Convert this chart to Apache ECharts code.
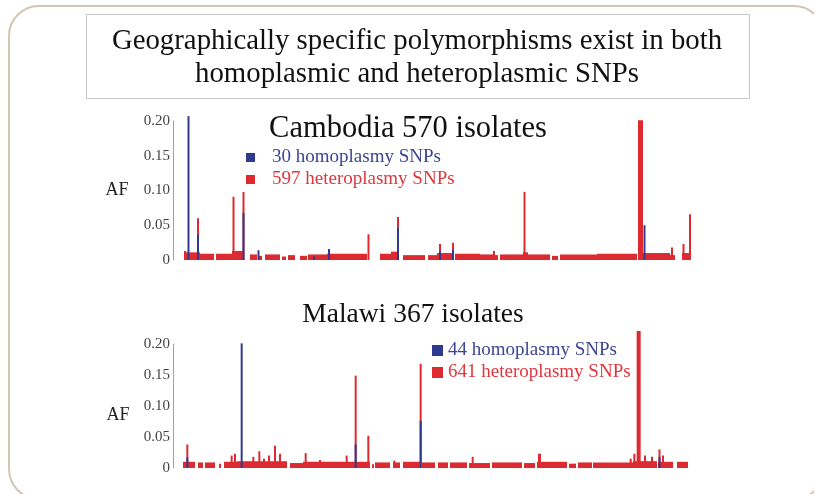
<!DOCTYPE html>
<html>
<head>
<meta charset="utf-8">
<title>Geographically specific polymorphisms</title>
<script src="https://cdn.jsdelivr.net/npm/echarts@6/dist/echarts.min.js"></script>
<style>
  html, body { margin: 0; padding: 0; background: #fff; }
  #chart { width: 814px; height: 494px; }
</style>
</head>
<body>
<div id="chart"></div>
<script>
// x = position along the mitochondrial genome (bp), y = allele frequency (AF)
const genomeLength = 6228;
const afTicks = [0, 0.05, 0.10, 0.15, 0.20];

// Cambodia, 570 isolates
// low-level heteroplasmy runs: [start, end, af]
const cambodiaHetRuns = [
  [132, 324, 0.011], [324, 492, 0.009], [516, 708, 0.009], [708, 840, 0.013],
  [924, 1008, 0.008], [1020, 1068, 0.006], [1104, 1284, 0.008], [1308, 1356, 0.005],
  [1380, 1464, 0.007], [1524, 1608, 0.006], [1620, 1848, 0.008], [1848, 2040, 0.009],
  [2040, 2328, 0.009], [2484, 2616, 0.009], [2616, 2700, 0.012], [2760, 3024, 0.007],
  [3060, 3168, 0.007], [3168, 3372, 0.010], [3384, 3684, 0.009], [3684, 3840, 0.008],
  [3864, 3900, 0.007], [3924, 4200, 0.008], [4200, 4260, 0.011], [4260, 4524, 0.008],
  [4548, 4620, 0.006], [4644, 5088, 0.008], [5088, 5568, 0.009], [5580, 5640, 0.201],
  [5640, 5964, 0.010], [5964, 6024, 0.007], [6108, 6216, 0.010]
];
// heteroplasmy peaks: [position, af]
const cambodiaHetPeaks = [
  [144, 0.013], [300, 0.060], [726, 0.091], [846, 0.098], [2346, 0.037],
  [2700, 0.062], [3204, 0.023], [3360, 0.025], [3852, 0.013], [4218, 0.098],
  [5988, 0.018], [6126, 0.023], [6204, 0.066]
];
// homoplasmy SNPs: [position, af]
const cambodiaHomo = [
  [186, 0.207], [300, 0.036], [846, 0.068], [1026, 0.014], [1692, 0.005],
  [1872, 0.016], [2700, 0.046], [3204, 0.012], [3360, 0.014], [5658, 0.050]
];

// Malawi, 367 isolates
const malawiHetRuns = [
  [120, 264, 0.010], [300, 360, 0.009], [384, 504, 0.009], [552, 576, 0.007],
  [612, 768, 0.010], [768, 1368, 0.011], [1404, 1560, 0.008], [1560, 2040, 0.010],
  [2040, 2364, 0.010], [2388, 2412, 0.006], [2424, 2604, 0.009], [2640, 2724, 0.009],
  [2760, 2964, 0.010], [2988, 3144, 0.009], [3180, 3300, 0.009], [3324, 3528, 0.009],
  [3552, 3804, 0.008], [3828, 4188, 0.009], [4212, 4344, 0.008], [4368, 4728, 0.010],
  [4380, 4416, 0.023], [4752, 4836, 0.007], [4860, 5028, 0.009], [5040, 5520, 0.009],
  [5520, 5808, 0.011], [5564, 5612, 0.221], [5820, 6000, 0.010], [6048, 6180, 0.010]
];
const malawiHetPeaks = [
  [172, 0.038], [704, 0.020], [744, 0.023], [964, 0.018], [1036, 0.027],
  [1092, 0.015], [1152, 0.020], [1224, 0.036], [1284, 0.023], [1592, 0.024],
  [1764, 0.013], [2084, 0.020], [2192, 0.149], [2344, 0.052], [2656, 0.012],
  [2972, 0.168], [3596, 0.018], [5492, 0.015], [5536, 0.023], [5664, 0.020],
  [5748, 0.018], [5838, 0.030], [5880, 0.020]
];
const malawiHomo = [
  [172, 0.017], [824, 0.201], [2192, 0.038], [2972, 0.076], [5838, 0.018]
];

const SERIF = '"Liberation Serif", "DejaVu Serif", serif';
const RED = '#dc2a30';
const BLUE = '#2f3a8f';
const RED_TEXT = '#e0363d';
const BLUE_TEXT = '#3d4494';

// runs keep their width, single SNPs get a thin 2px bar
function renderSpan(params, api) {
  const top = api.coord([api.value(0), api.value(2)]);
  const bottom = api.coord([api.value(1), 0]);
  let x = top[0];
  let w = bottom[0] - top[0];
  if (w < 2) {
    x = (top[0] + bottom[0]) / 2 - 1;
    w = 2;
  }
  return {
    type: 'rect',
    shape: { x: x, y: top[1], width: w, height: bottom[1] - top[1] },
    style: api.style()
  };
}

function toSpans(points) {
  return points.map(function(p) { return [p[0], p[0], p[1]]; });
}

function spanSeries(name, idx, data, color) {
  return {
    name: name,
    type: 'custom',
    xAxisIndex: idx,
    yAxisIndex: idx,
    renderItem: renderSpan,
    encode: { x: [0, 1], y: 2 },
    itemStyle: { color: color },
    clip: false,
    silent: true,
    data: data
  };
}

function makeYAxis(idx) {
  return {
    type: 'value',
    gridIndex: idx,
    min: afTicks[0],
    max: afTicks[afTicks.length - 1],
    interval: 0.05,
    axisLine: { show: true, lineStyle: { color: '#a0a0a0', width: 1 } },
    axisTick: { show: false },
    splitLine: { show: false },
    axisLabel: {
      margin: 3,
      fontFamily: SERIF,
      fontSize: 15,
      color: '#444',
      formatter: function(v) { return v === 0 ? '0' : v.toFixed(2); }
    }
  };
}

function makeXAxis(idx) {
  return {
    type: 'value',
    gridIndex: idx,
    min: 0,
    max: genomeLength,
    show: false
  };
}

function makeLegend(top, left, homoName, hetName, box, gap) {
  return {
    orient: 'vertical',
    left: left,
    top: top,
    padding: 0,
    icon: 'rect',
    itemWidth: box,
    itemHeight: box,
    itemGap: 3,
    selectedMode: false,
    textStyle: { fontFamily: SERIF, fontSize: 19, padding: [0, 0, 0, gap] },
    data: [
      { name: homoName, textStyle: { color: BLUE_TEXT } },
      { name: hetName, textStyle: { color: RED_TEXT } }
    ]
  };
}

const chart = echarts.init(document.getElementById('chart'), null, { renderer: 'canvas' });

const option = {
  backgroundColor: '#fff',
  animation: false,
  graphic: [
    {
      type: 'rect',
      shape: { x: 9, y: 6, width: 815, height: 493, r: 30 },
      style: { fill: 'none', stroke: '#cfc7b2', lineWidth: 2 }
    },
    {
      type: 'rect',
      shape: { x: 86.5, y: 14.5, width: 663, height: 84 },
      style: { fill: '#fff', stroke: '#c6c6c6', lineWidth: 1 }
    },
    {
      type: 'text', x: 417, y: 41,
      style: { text: 'Geographically specific polymorphisms exist in both', fontFamily: SERIF, fontSize: 28.8, fill: '#111', align: 'center', verticalAlign: 'middle' }
    },
    {
      type: 'text', x: 417, y: 74,
      style: { text: 'homoplasmic and heteroplasmic SNPs', fontFamily: SERIF, fontSize: 28.8, fill: '#111', align: 'center', verticalAlign: 'middle' }
    },
    {
      type: 'text', x: 408, y: 129,
      style: { text: 'Cambodia 570 isolates', fontFamily: SERIF, fontSize: 30.5, fill: '#111', align: 'center', verticalAlign: 'middle' }
    },
    {
      type: 'text', x: 413, y: 315,
      style: { text: 'Malawi 367 isolates', fontFamily: SERIF, fontSize: 27.5, fill: '#111', align: 'center', verticalAlign: 'middle' }
    },
    {
      type: 'text', x: 117, y: 190,
      style: { text: 'AF', fontFamily: SERIF, fontSize: 18, fill: '#222', align: 'center', verticalAlign: 'middle' }
    },
    {
      type: 'text', x: 118, y: 415,
      style: { text: 'AF', fontFamily: SERIF, fontSize: 18, fill: '#222', align: 'center', verticalAlign: 'middle' }
    }
  ],
  grid: [
    { left: 173, width: 519, top: 121, height: 139 },
    { left: 173, width: 519, top: 344, height: 124 }
  ],
  xAxis: [makeXAxis(0), makeXAxis(1)],
  yAxis: [makeYAxis(0), makeYAxis(1)],
  legend: [
    makeLegend(148, 246, '30 homoplasmy SNPs', '597 heteroplasmy SNPs', 9, 12),
    makeLegend(341, 432, '44 homoplasmy SNPs', '641 heteroplasmy SNPs', 11, 0)
  ],
  series: [
    spanSeries('597 heteroplasmy SNPs', 0, cambodiaHetRuns.concat(toSpans(cambodiaHetPeaks)), RED),
    spanSeries('30 homoplasmy SNPs', 0, toSpans(cambodiaHomo), BLUE),
    spanSeries('641 heteroplasmy SNPs', 1, malawiHetRuns.concat(toSpans(malawiHetPeaks)), RED),
    spanSeries('44 homoplasmy SNPs', 1, toSpans(malawiHomo), BLUE)
  ]
};

chart.setOption(option);
</script>
</body>
</html>
